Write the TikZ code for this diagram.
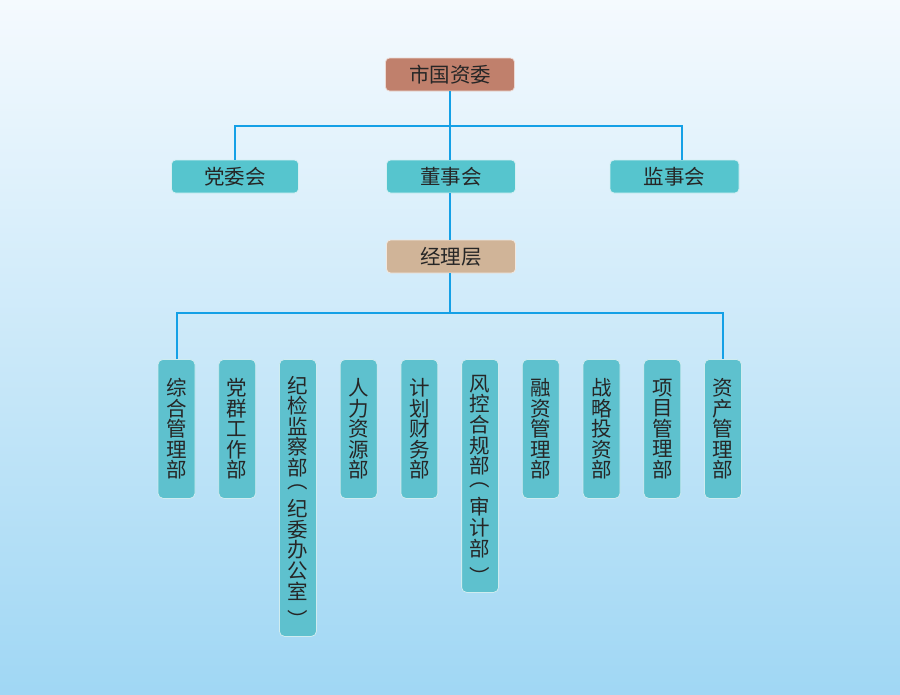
\documentclass[tikz,border=0pt]{standalone}
\usepackage{fontspec}
\setmainfont{Noto Sans CJK SC}
\definecolor{bgtop}{HTML}{F5FAFE}
\definecolor{bgbot}{HTML}{A0D7F4}
\definecolor{linec}{HTML}{14A0E6}
\definecolor{brownc}{HTML}{C0806C}
\definecolor{tanc}{HTML}{D0B498}
\definecolor{tealc}{HTML}{56C5CE}
\definecolor{deptc}{HTML}{5EC1CE}
\definecolor{txtc}{HTML}{262626}
\newcommand{\vlpar}{\raisebox{0.36em}[0pt][0pt]{︵}}
\newcommand{\vrpar}{\raisebox{-0.36em}[0pt][0pt]{︶}}
\begin{document}
\begin{tikzpicture}[x=1pt,y=-1pt,
  box/.style={rounded corners=4pt, draw=white!75!tealc, line width=0.8pt, text=txtc,
    font=\fontsize{20.5}{22}\selectfont, inner sep=0pt, minimum height=33pt, minimum width=129pt},
  dept/.style={rounded corners=5pt, draw=white!70!deptc, line width=0.8pt, fill=deptc, text=txtc,
    font=\fontsize{20.5}{20.6}\selectfont, inner sep=0pt, minimum width=37pt, align=center, anchor=north},
  conn/.style={draw=linec, line width=2pt}]
\shade[top color=bgtop, bottom color=bgbot] (0,0) rectangle (900,694);
\useasboundingbox (0,0) rectangle (900,694);

\node[box, fill=brownc, draw=white!70!brownc] (top) at (450,74.5) {市国资委};
\node[box, fill=tealc, minimum width=127pt] (dw) at (235,176.5) {党委会};
\node[box, fill=tealc] (dsh) at (451,176.5) {董事会};
\node[box, fill=tealc] (jsh) at (674.5,176.5) {监事会};
\node[box, fill=tanc, draw=white!70!tanc] (jl) at (451,256.5) {经理层};

\coordinate (jr) at (682,160);
\coordinate (b1) at (450,126);
\coordinate (b2) at (450,313);

\foreach \i/\t/\h in {1/综\\合\\管\\理\\部/139, 2/党\\群\\工\\作\\部/139,
  3/纪\\检\\监\\察\\部\\\vlpar\\纪\\委\\办\\公\\室\\\vrpar/277, 4/人\\力\\资\\源\\部/139,
  5/计\\划\\财\\务\\部/139, 6/风\\控\\合\\规\\部\\\vlpar\\审\\计\\部\\\vrpar/233,
  7/融\\资\\管\\理\\部/139, 8/战\\略\\投\\资\\部/139, 9/项\\目\\管\\理\\部/139,
  10/资\\产\\管\\理\\部/139}
  \node[dept, minimum height=\h pt] (d\i) at ({176.5+60.72*(\i-1)},359) {\t};

\draw[conn] (top.south) -- (b1);
\draw[conn] (b1) -- (b1 |- dsh.north);
\draw[conn] (b1) -| (dw.north);
\draw[conn] (b1) -| (jr);
\draw[conn] (b1 |- dsh.south) -- (b1 |- jl.north);
\draw[conn] (b1 |- jl.south) -- (b2);
\draw[conn] (b2) -| (d1.north);
\draw[conn] (b2) -| (d10.north);
\end{tikzpicture}
\end{document}
